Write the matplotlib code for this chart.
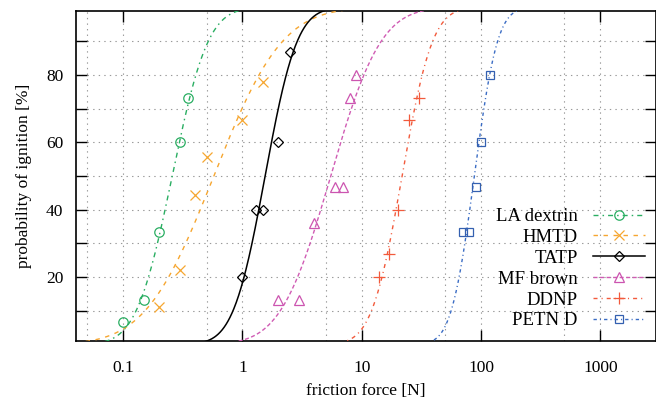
import math
import numpy as np
import matplotlib
matplotlib.use("Agg")
import matplotlib.pyplot as plt
from matplotlib.lines import Line2D
from matplotlib.ticker import FixedLocator, NullFormatter, FixedFormatter

# ---- data ----
names = ["LA dextrin", "HMTD", "TATP", "MF brown", "DDNP", "PETN D"]

la_x = [0.1, 0.15, 0.2, 0.3, 0.35]
la_y = [6.7, 13.3, 33.3, 60.0, 73.3]

hmtd_x = [0.2, 0.3, 0.4, 0.5, 1.0, 1.5]
hmtd_y = [11.1, 22.2, 44.4, 55.6, 66.7, 77.8]

tatp_x = [1.0, 1.3, 1.5, 2.0, 2.5]
tatp_y = [20.0, 40.0, 40.0, 60.0, 86.7]

mf_x = [2.0, 3.0, 4.0, 6.0, 7.0, 8.0, 9.0]
mf_y = [13.3, 13.3, 36.0, 46.7, 46.7, 73.3, 80.0]

ddnp_x = [14.0, 17.0, 20.0, 25.0, 30.0]
ddnp_y = [20.0, 26.7, 40.0, 66.7, 73.3]

petn_x = [70.0, 80.0, 90.0, 100.0, 120.0]
petn_y = [33.3, 33.3, 46.7, 60.0, 80.0]

# fitted log-normal (probit) curves: mean and spread of log10(force)
fit_mu = [-0.589, -0.24, 0.19, 0.74, 1.338, 1.944]
fit_sigma = [0.236, 0.45, 0.21, 0.33, 0.20, 0.152]

xs_all = [la_x, hmtd_x, tatp_x, mf_x, ddnp_x, petn_x]
ys_all = [la_y, hmtd_y, tatp_y, mf_y, ddnp_y, petn_y]

x_major = [0.1, 1, 10, 100, 1000]
x_major_labels = ["0.1", "1", "10", "100", "1000"]
x_minor = [0.05, 0.5, 5, 50, 500]
y_ticks = [10, 20, 30, 40, 50, 60, 70, 80, 90]
y_labels = ["", "20", "", "40", "", "60", "", "80", ""]

# ---- styles ----
colors = ["#2aae62", "#f6a630", "#000000", "#d05cb4", "#f25a3c", "#3a6cc4"]
mcolors = ["#2aae62", "#f6a630", "#000000", "#cc55b0", "#f25a3c", "#3460b0"]
markers = ["o", "x", "D", "^", "+", "s"]
msizes = [6.8, 7, 5.2, 7, 8, 6.3]
dashes = [(3.6, 2.9, 1.1, 2.9), (3.2, 4.0), None, (2.9, 1.8),
          (2.9, 2.9, 0.8, 2.9), (2.4, 2.2, 0.8, 2.2)]
lws = [1.0, 1.0, 1.1, 1.0, 1.0, 1.0]

plt.rcParams["font.family"] = ["Liberation Serif", "DejaVu Serif"]
plt.rcParams["lines.scale_dashes"] = False
plt.rcParams["font.size"] = 12

fig = plt.figure(figsize=(6.56, 4.03), dpi=100)
ax = fig.add_axes([75.7 / 656, 62 / 403, (655.5 - 75.7) / 656, (341 - 11) / 403])

xmin, xmax = 0.04, 2900
xx = np.logspace(math.log10(xmin), math.log10(xmax), 1200)
erf = np.vectorize(math.erf)

handles = []
for i, name in enumerate(names):
    z = (np.log10(xx) - fit_mu[i]) / fit_sigma[i]
    yy = 50.0 * (1.0 + erf(z / math.sqrt(2.0)))
    line, = ax.plot(xx, yy, color=colors[i], lw=lws[i], zorder=3)
    if dashes[i] is not None:
        line.set_dashes(dashes[i])
    ax.plot(xs_all[i], ys_all[i], linestyle="none", marker=markers[i],
            markersize=msizes[i], markerfacecolor="none",
            markeredgecolor=mcolors[i], markeredgewidth=0.9, zorder=4)
    h = Line2D([], [], color=colors[i], lw=lws[i], marker=markers[i],
               markersize=msizes[i], markerfacecolor="none",
               markeredgecolor=mcolors[i], markeredgewidth=0.9)
    if dashes[i] is not None:
        h.set_dashes(dashes[i])
    handles.append(h)

ax.set_xscale("log")
ax.set_xlim(xmin, xmax)
ax.set_ylim(1, 99)

ax.xaxis.set_major_locator(FixedLocator(x_major))
ax.xaxis.set_major_formatter(FixedFormatter(x_major_labels))
ax.xaxis.set_minor_locator(FixedLocator(x_minor))
ax.xaxis.set_minor_formatter(NullFormatter())
ax.yaxis.set_major_locator(FixedLocator(y_ticks))
ax.yaxis.set_major_formatter(FixedFormatter(y_labels))

ax.tick_params(axis="both", which="major", direction="in", length=8, width=1.0,
               top=True, right=True, labelsize=12.5)
ax.tick_params(axis="x", which="major", pad=14)
ax.tick_params(axis="y", which="major", pad=9)
ax.tick_params(axis="x", which="minor", length=0, top=True)

ax.grid(True, which="both", color="#9a9a9a", linewidth=0.8, linestyle=(0, (1, 3)), zorder=0)
ax.set_axisbelow(True)
for s in ax.spines.values():
    s.set_linewidth(1.2)

ax.set_xlabel("friction force [N]", fontsize=12.5, labelpad=5)
ax.set_ylabel("probability of ignition [%]", fontsize=12.5, labelpad=10)

leg = ax.legend(handles=handles, labels=names, loc="lower right",
                bbox_to_anchor=(0.982, 0.035), frameon=False, markerfirst=False,
                handlelength=2.8, handletextpad=0.8, labelspacing=0.2,
                fontsize=13.5, borderpad=0, borderaxespad=0, numpoints=1)
fig.canvas.draw()
r = fig.canvas.get_renderer()
exts = [t.get_window_extent(r) for t in leg.get_texts()]
right_px = max(e.x1 for e in exts)
for t, e in zip(leg.get_texts(), exts):
    ycen = (e.y0 + e.y1) / 2.0
    fx, fy = fig.transFigure.inverted().transform((right_px, ycen))
    fig.text(fx, fy, t.get_text(), ha="right", va="center", fontsize=13.5)
    t.set_visible(False)

fig.savefig("out.png", dpi=100)
